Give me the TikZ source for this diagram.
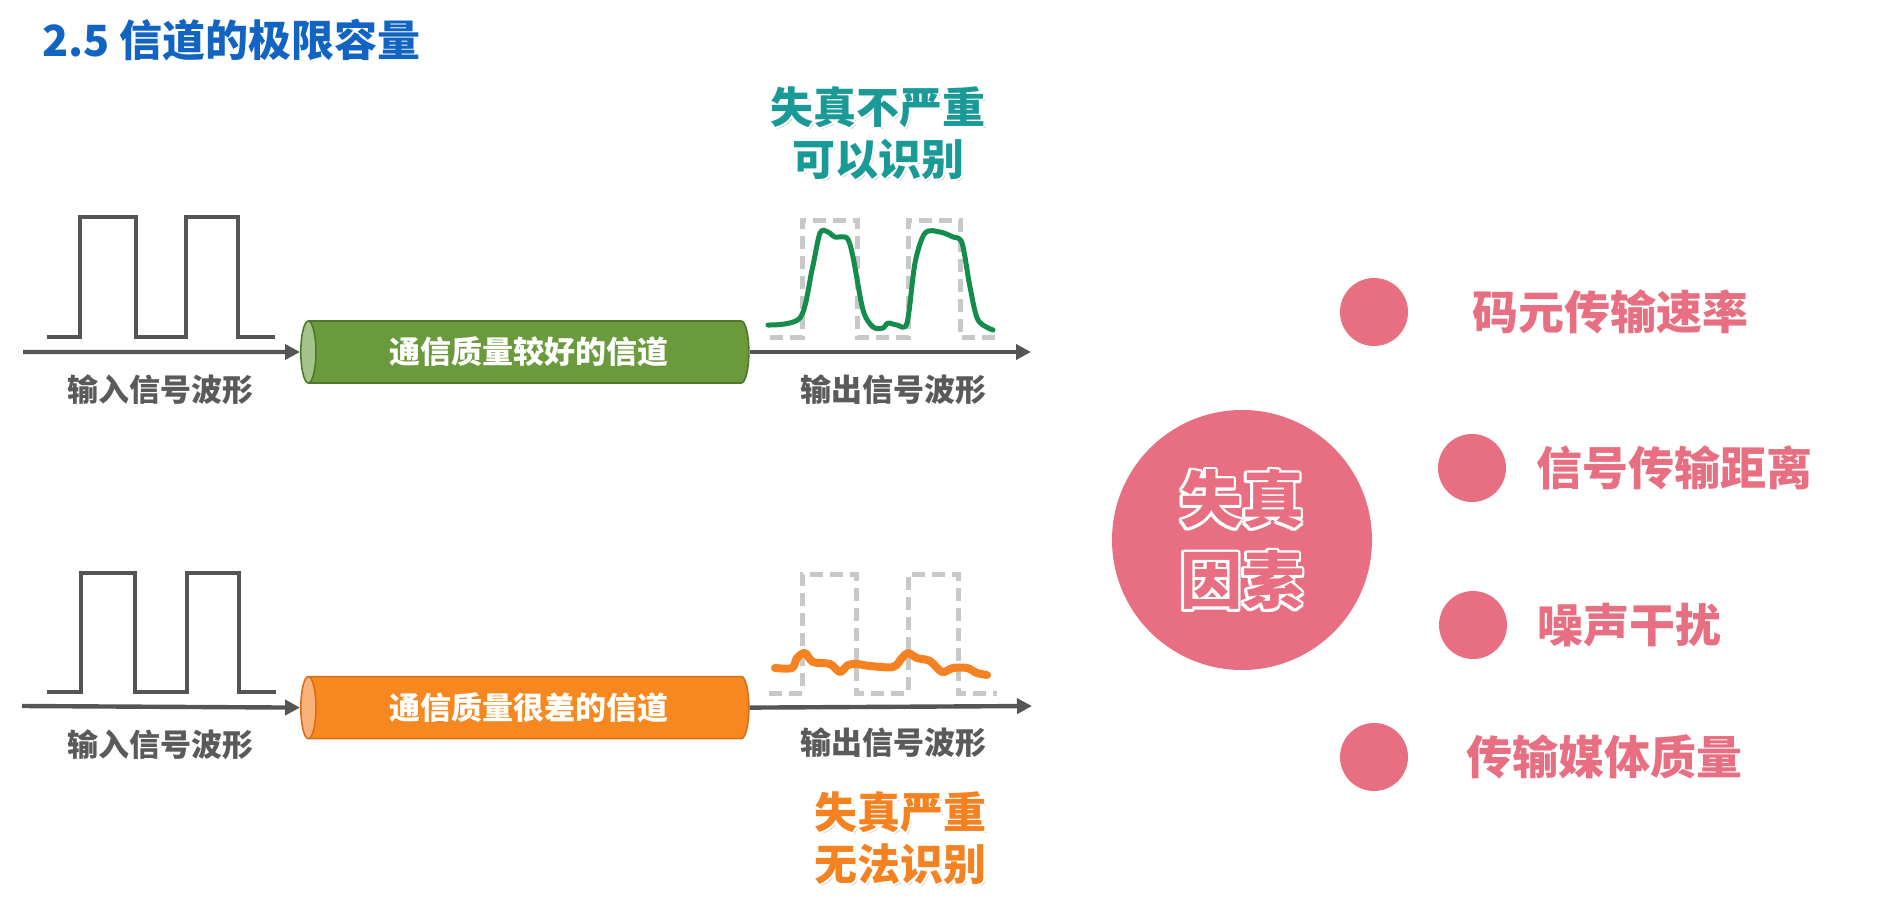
\documentclass[tikz,border=0pt]{standalone}
\usepackage{fontspec}
\setmainfont{Noto Sans CJK SC}
\usepackage{tikz}
\usetikzlibrary{positioning, shapes.geometric, arrows.meta}

\definecolor{titleblue}{RGB}{18,100,195}
\definecolor{wavegray}{RGB}{85,85,85}
\definecolor{labelgray}{RGB}{90,90,90}
\definecolor{refgray}{RGB}{200,200,200}
\definecolor{goodgreen}{RGB}{106,154,60}
\definecolor{goodend}{RGB}{163,195,138}
\definecolor{goodline}{RGB}{80,120,45}
\definecolor{curvegreen}{RGB}{20,140,75}
\definecolor{badorange}{RGB}{247,136,31}
\definecolor{badend}{RGB}{249,178,122}
\definecolor{badline}{RGB}{215,110,25}
\definecolor{tealtext}{RGB}{26,154,150}
\definecolor{orangetext}{RGB}{245,130,32}
\definecolor{factpink}{RGB}{231,111,129}

\newsavebox\glowbox
\newcommand\glowtext[2]{%
  \setbox\glowbox=\hbox{#2}%
  \rlap{\kern1.2pt\raisebox{-1.4pt}{\textcolor{black!30}{\usebox\glowbox}}}%
  \foreach \a in {0,30,...,330}{%
    \pgfmathsetlengthmacro\glowdx{1.2pt*cos(\a)}%
    \pgfmathsetlengthmacro\glowdy{1.2pt*sin(\a)}%
    \rlap{\kern\glowdx\raisebox{\glowdy}{\textcolor{white}{\usebox\glowbox}}}}%
  \textcolor{#1}{\usebox\glowbox}}

\begin{document}
\begin{tikzpicture}[x=0.5pt, y=-0.5pt,
        wave/.style={draw=wavegray, line width=2pt},
        ref/.style={draw=refgray, line width=2.5pt, dash pattern=on 6.5pt off 3.5pt},
        flow/.style={draw=wavegray, line width=2.2pt, -{Triangle[length=7.5pt, width=7.5pt]}},
        channel/.style={cylinder, shape border rotate=180, shape aspect=0.5, minimum height=224pt, minimum width=31pt, inner sep=0pt, cylinder uses custom fill, line width=0.8pt, text=white, font=\bfseries\fontsize{15.5}{18}\selectfont},
        caption/.style={text=labelgray, font=\bfseries\fontsize{15.5}{18}\selectfont, inner sep=0pt},
        verdict/.style={align=center, font=\bfseries\fontsize{21.5}{26}\selectfont, inner sep=0pt},
        dot/.style={circle, fill=factpink, minimum size=34pt, inner sep=0pt},
        factor/.style={text=factpink, font=\bfseries\fontsize{23}{28}\selectfont, inner sep=0pt}]
        \useasboundingbox (0,0) rectangle (1890,904);

        \node[anchor=west, text=titleblue, font=\bfseries\fontsize{21.5}{26}\selectfont, inner sep=0pt](title) at (42,40){2.5 信道的极限容量};

        \node[channel, draw=goodline, cylinder body fill=goodgreen, cylinder end fill=goodend](ch1) at (529,352){通信质量较好的信道};
        \node[channel, draw=badline, cylinder body fill=badorange, cylinder end fill=badend](ch2)[below = 146pt of ch1]{通信质量很差的信道};

        \coordinate(in1) at (23,352);
        \coordinate(out1) at (1031,352);
        \coordinate(in2) at (22,706);
        \coordinate(out2) at (1032,706);

        \draw[flow] (in1) -- (ch1.west);
        \draw[flow] (ch1.east) -- (out1);
        \draw[flow] (in2) -- (ch2.west);
        \draw[flow] (ch2.east) -- (out2);

        \draw[wave] (47,337) -- (80,337) -- (80,217) -- (136,217) -- (136,337) -- (186,337) -- (186,217) -- (238,217) -- (238,337) -- (275,337);
        \draw[wave] (47,692) -- (81,692) -- (81,573) -- (135,573) -- (135,692) -- (187,692) -- (187,573) -- (239,573) -- (239,692) -- (276,692);

        \draw[ref] (770,337) -- (802,337) -- (802,220) -- (857,220) -- (857,337) -- (908,337) -- (908,220) -- (960,220) -- (960,337) -- (997,337);
        \draw[ref] (769,693) -- (802,693) -- (802,574) -- (856,574) -- (856,693) -- (908,693) -- (908,574) -- (958,574) -- (958,693) -- (997,693);

        \draw[curvegreen, line width=2.5pt, line join=round, line cap=round] plot[smooth, tension=0.5] coordinates {(768,325) (800,318) (812,270) (820,233) (828,232) (835,237) (847,238) (853,257) (863,310) (873,327) (883,328) (888,323) (897,325) (907,323) (915,263) (925,233) (940,232) (953,237) (962,243) (970,287) (978,320) (993,330)};
        \draw[orangetext, line width=4pt, line join=round, line cap=round] plot[smooth, tension=0.5] coordinates {(775,668) (792,668) (797,658) (805,653) (813,662) (830,664) (840,672) (848,665) (857,664) (870,666) (893,667) (902,658) (908,653) (917,658) (930,661) (942,672) (953,668) (967,668) (977,673) (987,675)};

        \node[caption](inlab1) at (160,390){输入信号波形};
        \node[caption](outlab1) at (893,390){输出信号波形};
        \node[caption](inlab2) at (160,745){输入信号波形};
        \node[caption](outlab2) at (893,743){输出信号波形};

        \node[verdict](good) at (878,133){\glowtext{tealtext}{失真不严重}\\\glowtext{tealtext}{可以识别}};
        \node[verdict](bad) at (900,838){\glowtext{orangetext}{失真严重}\\\glowtext{orangetext}{无法识别}};

        \node[circle, fill=factpink, minimum size=130pt, inner sep=0pt, align=center, font=\bfseries\fontsize{31}{40.5}\selectfont](fact) at (1242,540){\glowtext{factpink}{失真}\\\glowtext{factpink}{因素}};

        \node[dot](d1) at (1374,312){};
        \node[dot](d2) at (1472,468){};
        \node[dot](d3) at (1473,625){};
        \node[dot](d4) at (1374,757){};

        \node[factor](f1)[right = 32pt of d1]{码元传输速率};
        \node[factor](f2)[right = 15pt of d2]{信号传输距离};
        \node[factor](f3)[right = 15pt of d3]{噪声干扰};
        \node[factor](f4)[right = 29pt of d4]{传输媒体质量};
    \end{tikzpicture}
\end{document}
